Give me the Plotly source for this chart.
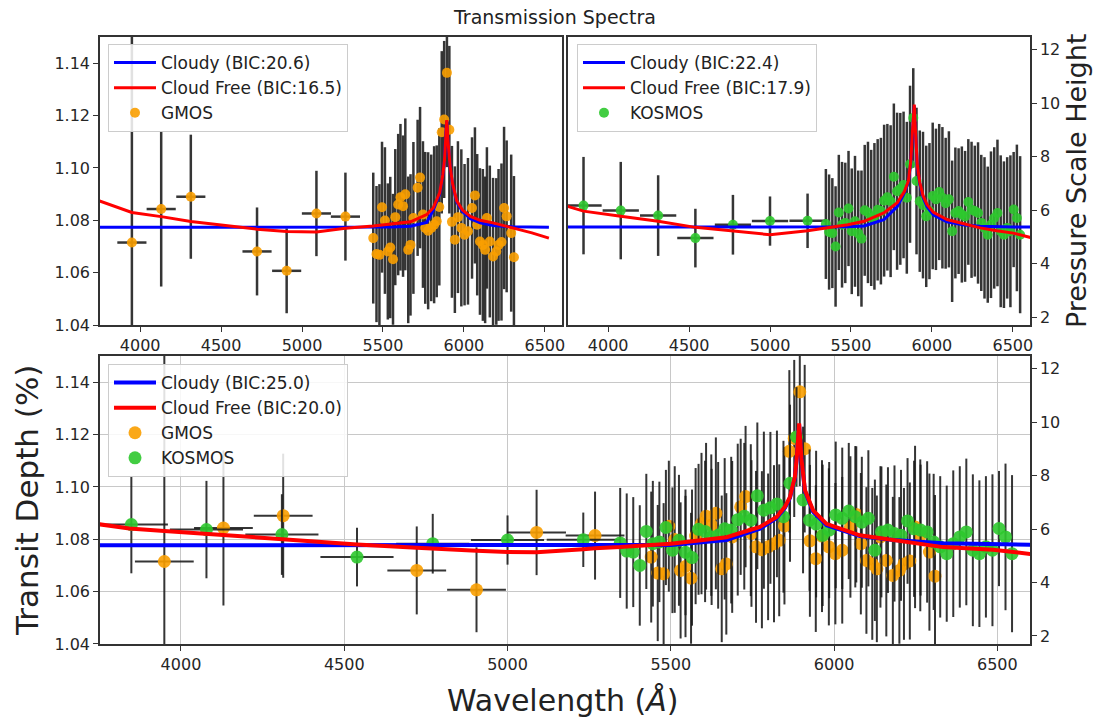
import plotly.graph_objects as go

# ---------------- DATA ----------------
# GMOS wide (binned) points
gmos_bin_wl = [3949, 4130, 4313, 4722, 4905, 5089, 5268]
gmos_bin_depth = [1.0715, 1.0843, 1.0890, 1.0681, 1.0607, 1.0826, 1.0814]
gmos_bin_err = [0.080, 0.0296, 0.0237, 0.0168, 0.0162, 0.0163, 0.0168]
gmos_bin_xerr = [90, 90, 90, 90, 90, 90, 90]

# GMOS narrow (high resolution) points
gmos_wl = [5440, 5460, 5478, 5494, 5512, 5530, 5545, 5562, 5576, 5594, 5608, 5624, 5638,
           5656, 5670, 5688, 5714, 5729, 5747, 5761, 5779, 5798, 5816, 5832, 5848, 5863,
           5878, 5895, 5910, 5926, 5944, 5963, 5984, 6004, 6025, 6050, 6068, 6082, 6099,
           6117, 6131, 6142, 6160, 6180, 6200, 6214, 6232, 6248, 6264, 6292, 6309]
gmos_depth = [1.0732, 1.0671, 1.0668, 1.0850, 1.0799, 1.0681, 1.0696, 1.0651, 1.0812,
              1.0860, 1.0888, 1.0854, 1.0899, 1.0687, 1.0706, 1.0809, 1.0924, 1.0963,
              1.0822, 1.0771, 1.0760, 1.0771, 1.0783, 1.0796, 1.0851, 1.1136, 1.1185,
              1.1363, 1.1146, 1.0794, 1.0726, 1.0812, 1.0771, 1.0745, 1.0758, 1.0847,
              1.0895, 1.0783, 1.0719, 1.0706, 1.0687, 1.0809, 1.0719, 1.0662, 1.0681,
              1.0706, 1.0717, 1.0847, 1.0815, 1.0751, 1.0659]
gmos_err = [0.025, 0.026, 0.027, 0.025, 0.028, 0.026, 0.027, 0.025, 0.026, 0.027, 0.028,
            0.027, 0.029, 0.028, 0.027, 0.029, 0.026, 0.027, 0.028, 0.029, 0.030, 0.028,
            0.030, 0.029, 0.030, 0.031, 0.030, 0.036, 0.032, 0.029, 0.028, 0.029, 0.030,
            0.027, 0.028, 0.027, 0.026, 0.027, 0.028, 0.029, 0.028, 0.027, 0.029, 0.030,
            0.028, 0.029, 0.030, 0.031, 0.029, 0.030, 0.031]

# KOSMOS wide (binned) points
kosmos_bin_wl = [3848, 4078, 4309, 4539, 4771, 5000, 5232]
kosmos_bin_depth = [1.0856, 1.0837, 1.0818, 1.0732, 1.0783, 1.0797, 1.0798]
kosmos_bin_err = [0.0186, 0.0186, 0.0154, 0.0112, 0.0114, 0.0094, 0.0104]
kosmos_bin_xerr = [112, 112, 112, 112, 112, 112, 112]

# KOSMOS narrow (high resolution) points
kosmos_wl = [5345, 5365, 5385, 5405, 5425, 5445, 5465, 5485, 5505, 5525, 5545, 5565, 5585,
             5605, 5625, 5645, 5665, 5685, 5705, 5725, 5745, 5765, 5785, 5805, 5825, 5845,
             5865, 5885, 5905, 5925, 5945, 5965, 5985, 6005, 6025, 6045, 6065, 6085, 6105,
             6125, 6145, 6165, 6185, 6205, 6225, 6245, 6265, 6285, 6305, 6325, 6345, 6365,
             6385, 6405, 6425, 6445, 6465, 6485, 6505, 6525, 6545]
kosmos_depth = [1.0786, 1.0755, 1.0751, 1.0700, 1.0830, 1.0783, 1.0790, 1.0845, 1.0758,
                1.0796, 1.0750, 1.0730, 1.0838, 1.0830, 1.0809, 1.0815, 1.0840, 1.0835,
                1.0875, 1.0888, 1.0873, 1.0966, 1.0911, 1.0920, 1.0935, 1.0886, 1.1014,
                1.1191, 1.0950, 1.0873, 1.0858, 1.0815, 1.0835, 1.0893, 1.0880, 1.0908,
                1.0886, 1.0865, 1.0880, 1.0758, 1.0828, 1.0835, 1.0822, 1.0815, 1.0870,
                1.0840, 1.0835, 1.0828, 1.0790, 1.0771, 1.0745, 1.0783, 1.0809, 1.0828,
                1.0758, 1.0745, 1.0771, 1.0758, 1.0841, 1.0809, 1.0745]
kosmos_err = [0.021, 0.022, 0.021, 0.023, 0.022, 0.024, 0.023, 0.022, 0.024, 0.025, 0.024,
              0.026, 0.025, 0.027, 0.026, 0.028, 0.027, 0.028, 0.029, 0.028, 0.029, 0.028,
              0.030, 0.029, 0.028, 0.029, 0.030, 0.019, 0.028, 0.027, 0.028, 0.027, 0.026,
              0.028, 0.027, 0.026, 0.027, 0.025, 0.026, 0.027, 0.025, 0.024, 0.026, 0.025,
              0.024, 0.026, 0.025, 0.027, 0.026, 0.027, 0.026, 0.028, 0.027, 0.028, 0.029,
              0.028, 0.027, 0.029, 0.022, 0.028, 0.030]

# Models: GMOS-only fit (top left)
gm_model_wl = [3700, 3949, 4130, 4313, 4722, 4905, 5089, 5268, 5440, 5560, 5670, 5770, 5810,
               5850, 5870, 5880, 5888, 5894, 5900, 5906, 5915, 5930, 5955, 5990, 6040, 6100,
               6180, 6300, 6420, 6525]
gm_cloudfree = [1.0885, 1.0830, 1.0814, 1.0795, 1.0766, 1.0757, 1.0755, 1.0770, 1.0778,
                1.0785, 1.0794, 1.0822, 1.0847, 1.0905, 1.0975, 1.1030, 1.1135, 1.1183,
                1.1115, 1.1060, 1.1005, 1.0940, 1.0875, 1.0840, 1.0815, 1.0800, 1.0790,
                1.0771, 1.0752, 1.0732]
gm_cloudy = [1.0773, 1.0773, 1.0773, 1.0773, 1.0773, 1.0773, 1.0773, 1.0773, 1.0773,
             1.0774, 1.0777, 1.0792, 1.0838, 1.0900, 1.0972, 1.1027, 1.1132, 1.1180,
             1.1112, 1.1057, 1.1002, 1.0937, 1.0870, 1.0834, 1.0806, 1.0790, 1.0780,
             1.0775, 1.0774, 1.0773]

# Models: KOSMOS-only fit (top right)
ko_model_wl = [3700, 3848, 4078, 4309, 4539, 4771, 5000, 5232, 5355, 5480, 5581, 5703, 5786,
               5830, 5855, 5870, 5880, 5886, 5891, 5896, 5902, 5910, 5925, 5945, 5970, 6010,
               6093, 6200, 6298, 6400, 6503, 6650]
ko_cloudfree = [1.0862, 1.0835, 1.0815, 1.0796, 1.0773, 1.0760, 1.0745, 1.0760, 1.0771,
                1.0783, 1.0796, 1.0828, 1.0867, 1.0910, 1.0950, 1.1030, 1.1140, 1.1210,
                1.1242, 1.1170, 1.1080, 1.1010, 1.0945, 1.0895, 1.0860, 1.0830, 1.0803,
                1.0785, 1.0771, 1.0760, 1.0751, 1.0728]
ko_cloudy = [1.0774, 1.0774, 1.0774, 1.0774, 1.0774, 1.0774, 1.0774, 1.0774, 1.0774,
             1.0775, 1.0778, 1.0802, 1.0852, 1.0905, 1.0946, 1.1026, 1.1136, 1.1206,
             1.1238, 1.1166, 1.1076, 1.1006, 1.0940, 1.0888, 1.0852, 1.0820, 1.0794,
             1.0782, 1.0777, 1.0775, 1.0774, 1.0774]

# Models: joint fit (bottom)
jt_model_wl = [3700, 3842, 3949, 4078, 4130, 4309, 4539, 4722, 4771, 4905, 5000, 5089, 5232,
               5268, 5344, 5500, 5671, 5773, 5824, 5850, 5865, 5880, 5887, 5893, 5900, 5911,
               5936, 5977, 6079, 6181, 6334, 6487, 6650]
jt_cloudfree = [1.0866, 1.0841, 1.0832, 1.0820, 1.0816, 1.0802, 1.0780, 1.0768, 1.0764,
                1.0756, 1.0751, 1.0750, 1.0762, 1.0766, 1.0770, 1.0783, 1.0808, 1.0847,
                1.0885, 1.0925, 1.0962, 1.1038, 1.1130, 1.1243, 1.1107, 1.0987, 1.0910,
                1.0859, 1.0815, 1.0796, 1.0770, 1.0760, 1.0737]
jt_cloudy = [1.0777, 1.0777, 1.0777, 1.0777, 1.0777, 1.0777, 1.0777, 1.0777, 1.0777,
             1.0777, 1.0777, 1.0777, 1.0777, 1.0777, 1.0777, 1.0778, 1.0797, 1.0840,
             1.0881, 1.0921, 1.0958, 1.1034, 1.1126, 1.1239, 1.1103, 1.0983, 1.0905,
             1.0854, 1.0812, 1.0797, 1.0785, 1.0780, 1.0778]

bic_labels = {
    "gmos": ("Cloudy (BIC:20.6)", "Cloud Free (BIC:16.5)"),
    "kosmos": ("Cloudy (BIC:22.4)", "Cloud Free (BIC:17.9)"),
    "joint": ("Cloudy (BIC:25.0)", "Cloud Free (BIC:20.0)"),
}

x_ticks = [4000, 4500, 5000, 5500, 6000, 6500]
y_ticks = [1.04, 1.06, 1.08, 1.10, 1.12, 1.14]
h_ticks = [2, 4, 6, 8, 10, 12]

# ---------------- STYLE ----------------
ORANGE = "rgba(250,158,0,0.9)"
GREEN = "rgba(45,200,45,0.9)"
ERR = "rgba(25,25,25,0.88)"
BLUE = "#0000ff"
RED = "#ff0000"
FONT = "DejaVu Sans"

gm_x = gmos_bin_wl + gmos_wl
gm_y = gmos_bin_depth + gmos_depth
gm_e = gmos_bin_err + gmos_err
gm_xe = gmos_bin_xerr + [0] * len(gmos_wl)
ko_x = kosmos_bin_wl + kosmos_wl
ko_y = kosmos_bin_depth + kosmos_depth
ko_e = kosmos_bin_err + kosmos_err
ko_xe = kosmos_bin_xerr + [0] * len(kosmos_wl)

fig = go.Figure()


def data_trace(x, y, e, xe, color, name, xa, ya, legend, size, rank, thick):
    return go.Scatter(
        x=x, y=y, mode="markers", name=name, xaxis=xa, yaxis=ya, legend=legend,
        legendrank=rank,
        marker=dict(color=color, size=size, line=dict(width=0)),
        error_y=dict(type="data", array=e, color=ERR, thickness=thick, width=0),
        error_x=dict(type="data", array=xe, color=ERR, thickness=thick, width=0),
    )


def line_trace(x, y, color, name, xa, ya, legend, width, rank):
    return go.Scatter(
        x=x, y=y, mode="lines", name=name, xaxis=xa, yaxis=ya, legend=legend,
        legendrank=rank, line=dict(color=color, width=width),
    )


# top-left: GMOS
fig.add_trace(data_trace(gm_x, gm_y, gm_e, gm_xe, ORANGE, "GMOS", "x", "y", "legend", 10, 3, 2.5))
fig.add_trace(line_trace(gm_model_wl, gm_cloudy, BLUE, bic_labels["gmos"][0], "x", "y", "legend", 3, 1))
fig.add_trace(line_trace(gm_model_wl, gm_cloudfree, RED, bic_labels["gmos"][1], "x", "y", "legend", 3, 2))

# top-right: KOSMOS
fig.add_trace(data_trace(ko_x, ko_y, ko_e, ko_xe, GREEN, "KOSMOS", "x2", "y2", "legend2", 10, 3, 2.5))
fig.add_trace(line_trace(ko_model_wl, ko_cloudy, BLUE, bic_labels["kosmos"][0], "x2", "y2", "legend2", 3, 1))
fig.add_trace(line_trace(ko_model_wl, ko_cloudfree, RED, bic_labels["kosmos"][1], "x2", "y2", "legend2", 3, 2))
fig.add_trace(go.Scatter(x=[], y=[], xaxis="x2", yaxis="y3", showlegend=False, hoverinfo="skip"))

# bottom: joint
fig.add_trace(data_trace(gm_x, gm_y, gm_e, gm_xe, ORANGE, "GMOS", "x3", "y4", "legend3", 13, 3, 2))
fig.add_trace(data_trace(ko_x, ko_y, ko_e, ko_xe, GREEN, "KOSMOS", "x3", "y4", "legend3", 13, 4, 2))
fig.add_trace(line_trace(jt_model_wl, jt_cloudy, BLUE, bic_labels["joint"][0], "x3", "y4", "legend3", 4, 1))
fig.add_trace(line_trace(jt_model_wl, jt_cloudfree, RED, bic_labels["joint"][1], "x3", "y4", "legend3", 4, 2))
fig.add_trace(go.Scatter(x=[], y=[], xaxis="x3", yaxis="y5", showlegend=False, hoverinfo="skip"))

ax = dict(showline=True, linecolor="#333333", linewidth=1.5, mirror=True, ticks="outside",
          ticklen=5, tickwidth=1.2, tickcolor="#333333", zeroline=False, showgrid=False,
          tickfont=dict(size=16, color="#262626", family=FONT))

TOP = [0.5255, 1.0]
BOT = [0.0, 0.4745]
XR = [3752, 6606]
YR = [1.04, 1.15]
HR = [1.70, 12.48]

leg = dict(bgcolor="rgba(255,255,255,0.85)", bordercolor="#cccccc", borderwidth=1,
           font=dict(size=17, family=FONT, color="#222222"), xanchor="left", yanchor="top",
           traceorder="normal", itemwidth=42)

fig.update_layout(
    width=1101, height=717,
    margin=dict(l=100, r=71, t=37, b=73),
    paper_bgcolor="white", plot_bgcolor="white",
    font=dict(family=FONT, color="#222222"),
    showlegend=True,
    xaxis=dict(ax, domain=[0, 0.4968], anchor="y", range=XR, tickvals=x_ticks),
    yaxis=dict(ax, domain=TOP, anchor="x", range=YR, tickvals=y_ticks, tickformat=".2f"),
    xaxis2=dict(ax, domain=[0.5032, 1], anchor="y2", range=XR, tickvals=x_ticks),
    yaxis2=dict(ax, domain=TOP, anchor="x2", range=YR, tickvals=y_ticks, ticks="",
                showticklabels=False),
    yaxis3=dict(ax, overlaying="y2", side="right", anchor="x2", range=HR, tickvals=h_ticks,
                mirror=False),
    xaxis3=dict(ax, domain=[0, 1], anchor="y4", range=[3752, 6600], tickvals=x_ticks,
                showgrid=True, gridcolor="#c8c8c8", gridwidth=1),
    yaxis4=dict(ax, domain=BOT, anchor="x3", range=YR, tickvals=y_ticks, tickformat=".2f",
                showgrid=True, gridcolor="#c8c8c8", gridwidth=1),
    yaxis5=dict(ax, overlaying="y4", side="right", anchor="x3", range=HR, tickvals=h_ticks,
                mirror=False),
    legend=dict(leg, x=0.0086, y=0.9885),
    legend2=dict(leg, x=0.5129, y=0.9885),
    legend3=dict(leg, x=0.0086, y=0.4613),
    annotations=[
        dict(text="Transmission Spectra", xref="paper", yref="paper", x=0.4882, y=1.0329,
             showarrow=False, xanchor="center", yanchor="middle",
             font=dict(size=19, family=FONT, color="#222222")),
        dict(text="Transit Depth (%)", xref="paper", yref="paper", x=-0.0785, y=0.2372,
             showarrow=False, xanchor="center", yanchor="middle", textangle=-90,
             font=dict(size=31, family=FONT, color="#222222")),
        dict(text="Wavelength (<i>Å</i>)", xref="paper", yref="paper", x=0.4978, y=-0.0923,
             showarrow=False, xanchor="center", yanchor="middle",
             font=dict(size=30, family=FONT, color="#222222")),
        dict(text="Pressure Scale Height", xref="paper", yref="paper", x=1.0505, y=0.7628,
             showarrow=False, xanchor="center", yanchor="middle", textangle=-90,
             font=dict(size=27, family=FONT, color="#222222")),
    ],
)

fig.write_html("out.html")
